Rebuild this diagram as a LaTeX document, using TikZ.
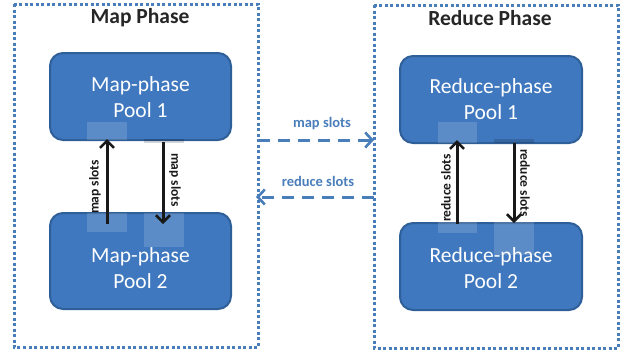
\documentclass[tikz,border=0pt]{standalone}
\usepackage{fontspec}
\setmainfont{Carlito}
\usetikzlibrary{arrows.meta}
\definecolor{poolfill}{HTML}{3F78BE}
\definecolor{pooldraw}{HTML}{2F5F98}
\definecolor{dotblue}{HTML}{4A7EBB}
\tikzset{
  pool/.style={draw=pooldraw, line width=2pt, fill=poolfill, rounded corners=13pt},
  pooltext/.style={text=white, align=center, font=\fontsize{21.5}{26}\selectfont},
  phase/.style={draw=dotblue, line width=3pt, dash pattern=on 3pt off 2.5pt},
  title/.style={font=\bfseries\fontsize{21.5}{24}\selectfont, text=black!85},
  slotarrow/.style={line width=3pt, -{Straight Barb[length=7pt,width=14pt,line width=2.6pt]}, black!90},
  slotlabel/.style={font=\bfseries\fontsize{13.5}{15}\selectfont, text=black!90},
  xarrow/.style={draw=dotblue, line width=3pt, dash pattern=on 12pt off 8pt, -{Straight Barb[length=7pt,width=15pt,line width=2.6pt]}},
  xlabel/.style={font=\bfseries\fontsize{14.5}{16}\selectfont, text=dotblue},
  patch/.style={fill=white, fill opacity=0.15}
}
\begin{document}
\begin{tikzpicture}[x=1pt,y=-1pt]
\useasboundingbox (0,0) rectangle (622,354);
% phase frames
\draw[phase] (14,4) rectangle (258,347);
\draw[phase] (374,5) rectangle (618,348);
\node[title] (mt) at (140,18) {Map Phase};
\node[title] (rt) at (490,18) {Reduce Phase};
% pools
\node[pool, minimum width=181pt, minimum height=87pt,
  label={[pooltext, yshift=-1pt]center:Map-phase\\Pool 1}] (m1) at (140.5,96.5) {};
\node[pool, minimum width=181pt, minimum height=96pt,
  label={[pooltext, yshift=-7pt]center:Map-phase\\Pool 2}] (m2) at (140.5,261) {};
\node[pool, minimum width=182pt, minimum height=87pt,
  label={[pooltext, yshift=0pt]center:Reduce-phase\\Pool 1}] (r1) at (491,99.5) {};
\node[pool, minimum width=182pt, minimum height=87pt,
  label={[pooltext, yshift=-2pt]center:Reduce-phase\\Pool 2}] (r2) at (491,266.5) {};
% translucent patches
\fill[patch] (87,122) rectangle (127,140);
\fill[patch] (87,213) rectangle (127,232);
\fill[patch] (144,213) rectangle (184,247);
\fill[black, opacity=0.15] (144,139) rectangle (184,143);
\fill[patch] (438,122) rectangle (477,143);
\fill[patch] (438,222) rectangle (477,233);
\fill[patch] (494,222) rectangle (534,255);
\fill[black, opacity=0.15] (494,139) rectangle (534,143);
% coordinates for slot arrows
\coordinate (ma1) at (107,224);
\coordinate (ma2) at (107,139);
\coordinate (mb1) at (163,142);
\coordinate (mb2) at (163,224);
\coordinate (ra1) at (457,224);
\coordinate (ra2) at (457,140);
\coordinate (rb1) at (514,143);
\coordinate (rb2) at (514,223);
\draw[slotarrow] (ma1) -- (ma2);
\draw[slotarrow] (mb1) -- (mb2);
\draw[slotarrow] (ra1) -- (ra2);
\draw[slotarrow] (rb1) -- (rb2);
\node[slotlabel, rotate=90] (ml1) at (95,187) {map slots};
\node[slotlabel, rotate=-90] (ml2) at (175,180) {map slots};
\node[slotlabel, rotate=90] (rl1) at (446,188) {reduce slots};
\node[slotlabel, rotate=-90] (rl2) at (525,183) {reduce slots};
% cross arrows
\coordinate (xa1) at (258,140);
\coordinate (xa2) at (374,140);
\coordinate (xb1) at (374,197);
\coordinate (xb2) at (256,197);
\draw[xarrow] (xa1) -- (xa2);
\draw[xarrow] (xb1) -- (xb2);
\node[xlabel] (xl1) at (322,124) {map slots};
\node[xlabel] (xl2) at (318,181) {reduce slots};
\end{tikzpicture}
\end{document}
